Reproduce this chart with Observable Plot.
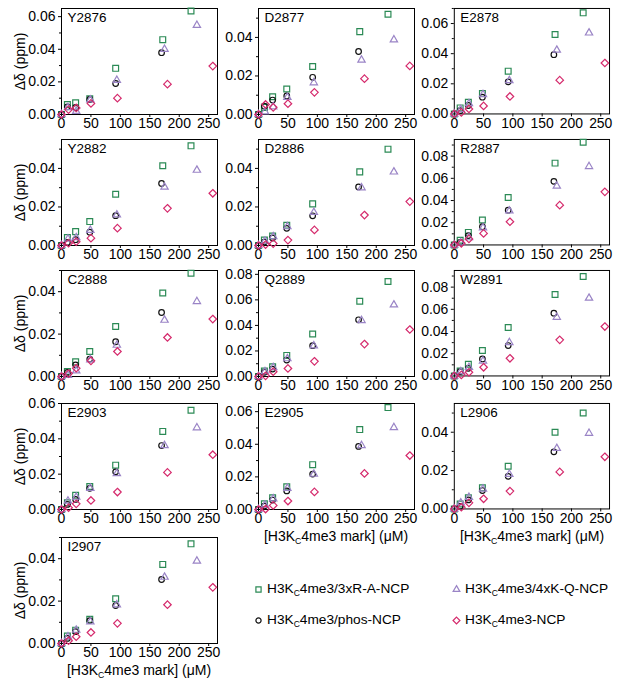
<!DOCTYPE html>
<html><head><meta charset="utf-8">
<script src="https://cdn.jsdelivr.net/npm/d3@7"></script>
<script src="https://cdn.jsdelivr.net/npm/@observablehq/plot@0.6"></script>
<style>
body{margin:0;background:#fff;font-family:"Liberation Sans",Arial,sans-serif;color:#000;}
#wrap{position:relative;width:617px;height:689px;overflow:hidden;}
.panel{position:absolute;}
.xlabel{position:absolute;font-size:14px;text-align:center;width:220px;white-space:nowrap;line-height:16px;}
sub{font-size:0.62em;vertical-align:-0.3em;line-height:0;}
.leg{position:absolute;font-size:13.7px;white-space:nowrap;line-height:16px;display:flex;align-items:center;}
.leg svg{margin-right:4px;overflow:visible;}
</style></head>
<body><div id="wrap"></div>
<script>
// ---- data ----
const residues = ["Y2876","D2877","E2878","Y2882","D2886","R2887","C2888","Q2889","W2891","E2903","E2905","L2906","I2907"];
const yMax = [0.065,0.055,0.07,0.055,0.055,0.095,0.05,0.083,0.095,0.06,0.065,0.055,0.05];
// concentrations of H3Kc4me3 mark (µM) per titration series
const conc3xRA = [0,10,24,48,92,172,220];
const concPhos = [0,10,24,48,92,170];
const conc4xKQ = [0,11,25,49,94,175,230];
const concWT   = [0,12,25,50,95,180,257];
// chemical shift perturbations (ppm), one row per residue
const shift3xRA = [
 [0,0.0061,0.0072,0.0096,0.0283,0.0459,0.0635],
 [0,0.0037,0.0092,0.0132,0.0249,0.0430,0.0520],
 [0,0.0040,0.0078,0.0136,0.0284,0.0527,0.0671],
 [0,0.0041,0.0072,0.0124,0.0266,0.0414,0.0517],
 [0,0.0028,0.0049,0.0105,0.0216,0.0382,0.0500],
 [0,0.0042,0.0113,0.0224,0.0427,0.0737,0.0925],
 [0,0.0024,0.0069,0.0118,0.0236,0.0394,0.0487],
 [0,0.0043,0.0076,0.0165,0.0333,0.0589,0.0744],
 [0,0.0045,0.0105,0.0229,0.0436,0.0734,0.0896],
 [0,0.0038,0.0080,0.0130,0.0251,0.0442,0.0562],
 [0,0.0035,0.0072,0.0139,0.0275,0.0490,0.0625],
 [0,0.0026,0.0058,0.0110,0.0223,0.0400,0.0500],
 [0,0.0035,0.0063,0.0114,0.0211,0.0373,0.0470]
];
const shiftPhos = [
 [0,0.0047,0.0043,0.0092,0.0190,0.0379],
 [0,0.0043,0.0075,0.0096,0.0193,0.0327],
 [0,0.0022,0.0056,0.0111,0.0213,0.0393],
 [0,0.0016,0.0030,0.0069,0.0155,0.0322],
 [0,0.0018,0.0039,0.0089,0.0154,0.0304],
 [0,0.0024,0.0084,0.0164,0.0313,0.0573],
 [0,0.0019,0.0055,0.0082,0.0164,0.0302],
 [0,0.0033,0.0058,0.0129,0.0241,0.0444],
 [0,0.0039,0.0069,0.0153,0.0274,0.0565],
 [0,0.0029,0.0057,0.0120,0.0213,0.0362],
 [0,0.0021,0.0058,0.0114,0.0217,0.0387],
 [0,0.0014,0.0047,0.0096,0.0170,0.0298],
 [0,0.0024,0.0056,0.0108,0.0179,0.0302]
];
const shift4xKQ = [
 [0,0.0043,0.0020,0.0090,0.0210,0.0400,0.0547],
 [0,0.0014,0.0040,0.0089,0.0165,0.0283,0.0388],
 [0,0.0030,0.0069,0.0129,0.0222,0.0424,0.0538],
 [0,0.0034,0.0041,0.0079,0.0159,0.0303,0.0391],
 [0,0.0023,0.0046,0.0098,0.0172,0.0300,0.0382],
 [0,0.0020,0.0066,0.0155,0.0307,0.0531,0.0707],
 [0,0.0006,0.0027,0.0079,0.0148,0.0266,0.0354],
 [0,0.0038,0.0071,0.0140,0.0241,0.0439,0.0561],
 [0,0.0039,0.0078,0.0135,0.0301,0.0529,0.0701],
 [0,0.0048,0.0070,0.0120,0.0204,0.0362,0.0463],
 [0,0.0027,0.0066,0.0130,0.0217,0.0393,0.0503],
 [0,0.0032,0.0061,0.0104,0.0181,0.0316,0.0395],
 [0,0.0032,0.0063,0.0103,0.0183,0.0313,0.0389]
];
const shiftWT = [
 [0,0.0030,0.0040,0.0068,0.0100,0.0186,0.0297],
 [0,0.0052,0.0037,0.0056,0.0115,0.0186,0.0252],
 [0,0.0010,0.0033,0.0053,0.0116,0.0224,0.0338],
 [0,0.0012,0.0020,0.0038,0.0090,0.0193,0.0271],
 [0,0.0005,0.0010,0.0028,0.0081,0.0158,0.0228],
 [0,0.0015,0.0054,0.0104,0.0209,0.0358,0.0478],
 [0,0.0014,0.0039,0.0074,0.0118,0.0184,0.0271],
 [0,0.0005,0.0038,0.0063,0.0119,0.0254,0.0368],
 [0,0.0009,0.0033,0.0078,0.0159,0.0325,0.0445],
 [0,0.0010,0.0032,0.0051,0.0099,0.0210,0.0310],
 [0,0.0003,0.0025,0.0052,0.0108,0.0221,0.0331],
 [0,0.0009,0.0032,0.0053,0.0093,0.0193,0.0272],
 [0,0.0013,0.0032,0.0052,0.0095,0.0183,0.0265]
];
const xTicks = [0,50,100,150,200,250];
const seriesNames = ["H3K<sub>C</sub>4me3/3xR-A-NCP","H3K<sub>C</sub>4me3/4xK-Q-NCP","H3K<sub>C</sub>4me3/phos-NCP","H3K<sub>C</sub>4me3-NCP"];
const xLabel = "[H3K<sub>C</sub>4me3 mark] (μM)";

// ---- style ----
const colors = {sq:"#2b8a55", circ:"#111111", tri:"#9a84c6", dia:"#d52a6c"};
const colLeft = [61,258,454];
const rowTop = [8,139,270,403,537];
const fw = 156, fh = 106;
const font = '"Liberation Sans", Arial, sans-serif';
const wrap = document.getElementById("wrap");

residues.forEach((name, i) => {
  const col = i % 3, row = Math.floor(i / 3);
  const ml = col === 0 ? 61 : 42;
  const mt = 6, mr = 8, mb = 24;
  const top = yMax[i];
  const majors = d3.range(0, top + 1e-9, 0.02);
  const minors = d3.range(0.01, top + 1e-9, 0.02);
  const dotOpts = (xs, ys, sym, c, r) =>
    Plot.dot(d3.zip(xs, ys), {x: d => d[0], y: d => d[1], symbol: sym, r, stroke: c, strokeWidth: 1.2, fill: "none"});
  const svg = Plot.plot({
    width: ml + fw + mr, height: mt + fh + mb,
    marginLeft: ml, marginTop: mt, marginRight: mr, marginBottom: mb,
    x: {domain: [0, 265]},
    y: {domain: [0, top]},
    style: {fontSize: "14px", fontFamily: font, color: "#000", background: "transparent", overflow: "visible"},
    marks: [
      Plot.axisX({ticks: xTicks, tickSize: 3, tickPadding: 1, label: null}),
      Plot.axisY({ticks: majors, tickSize: 3, tickPadding: 3, tickFormat: d3.format(".2f"),
        label: col === 0 ? "Δδ (ppm)" : null, labelAnchor: "center", labelOffset: 46, labelArrow: "none"}),
      Plot.axisY({ticks: minors, tickSize: 2, tickFormat: () => "", label: null}),
      Plot.frame({stroke: "#000", strokeWidth: 1}),
      Plot.text([name], {text: d => d, frameAnchor: "top-left", dx: 6, dy: 4, fontSize: 13.5}),
      dotOpts(conc3xRA, shift3xRA[i], "square2", colors.sq, 3.7),
      dotOpts(concPhos, shiftPhos[i], "circle", colors.circ, 2.8),
      dotOpts(conc4xKQ, shift4xKQ[i], "triangle2", colors.tri, 3.5),
      dotOpts(concWT, shiftWT[i], "diamond2", colors.dia, 3.4)
    ]
  });
  const div = document.createElement("div");
  div.className = "panel";
  div.style.left = (colLeft[col] - ml) + "px";
  div.style.top = (rowTop[row] - mt) + "px";
  div.appendChild(svg);
  wrap.appendChild(div);
  // x-axis label under bottom panels
  if (i >= 10) {
    const lab = document.createElement("div");
    lab.className = "xlabel";
    lab.innerHTML = xLabel;
    lab.style.left = (colLeft[col] + fw / 2 - 110) + "px";
    lab.style.top = (rowTop[row] + fh + 19) + "px";
    wrap.appendChild(lab);
  }
});

// ---- legend ----
const legItems = [
  {x: 254, y: 589, sym: d3.symbolSquare2, c: colors.sq, r: 3.3, t: seriesNames[0]},
  {x: 452, y: 589, sym: d3.symbolTriangle2, c: colors.tri, r: 3.2, t: seriesNames[1]},
  {x: 254, y: 620, sym: d3.symbolCircle, c: colors.circ, r: 2.6, t: seriesNames[2]},
  {x: 452, y: 620, sym: d3.symbolDiamond2, c: colors.dia, r: 3.1, t: seriesNames[3]}
];
legItems.forEach(it => {
  const d = document.createElement("div");
  d.className = "leg";
  d.style.left = it.x + "px";
  d.style.top = (it.y - 8) + "px";
  const path = d3.symbol(it.sym, Math.PI * it.r * it.r)();
  d.innerHTML = `<svg width="9" height="9" viewBox="-4.5 -4.5 9 9"><path d="${path}" fill="none" stroke="${it.c}" stroke-width="1.2"/></svg><span>${it.t}</span>`;
  wrap.appendChild(d);
});
</script></body></html>
